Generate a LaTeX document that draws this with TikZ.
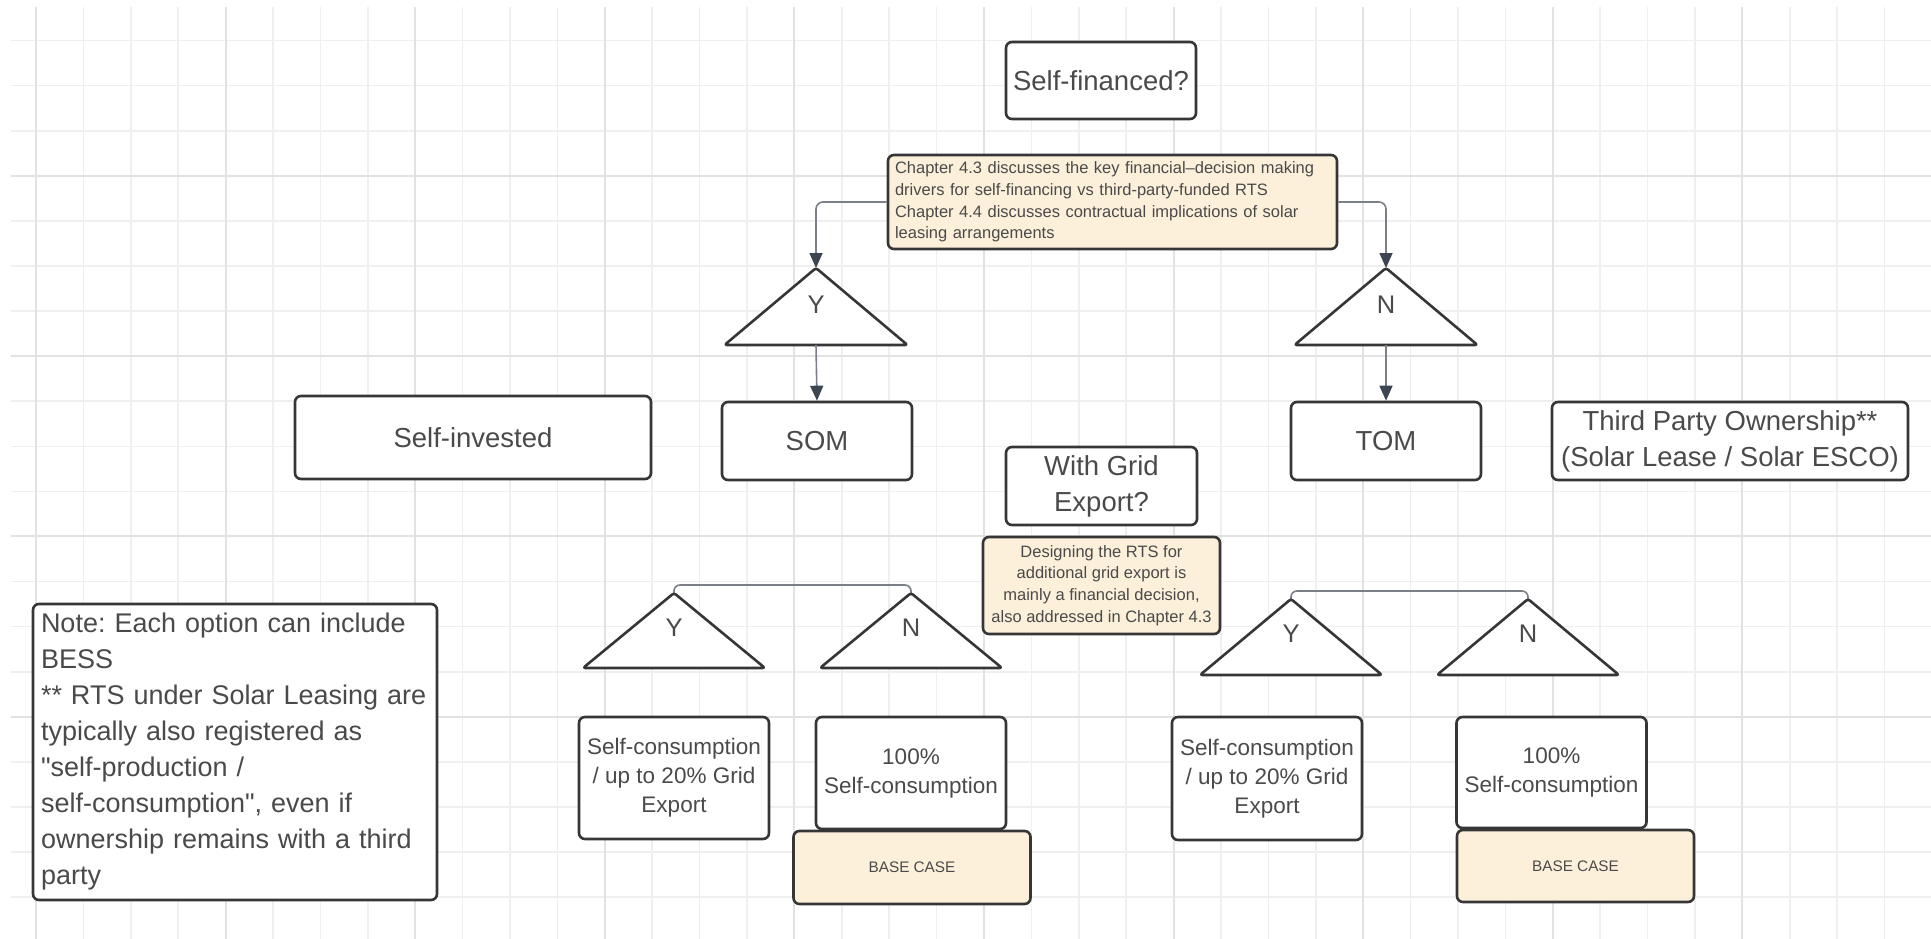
\documentclass[tikz,border=0pt]{standalone}
\usepackage{fontspec}
\setmainfont{Liberation Sans}
\newfontfamily\qfont{Liberation Sans}
\usetikzlibrary{arrows.meta}
\definecolor{gridminor}{HTML}{EFEFEF}
\definecolor{gridmajor}{HTML}{E2E2E2}
\definecolor{edge}{HTML}{363636}
\definecolor{txt}{HTML}{4A4A4A}
\definecolor{cream}{HTML}{FDF0DA}
\definecolor{conn}{HTML}{7A7F88}
\definecolor{tip}{HTML}{3D4452}
\begin{document}
\frenchspacing
\begin{tikzpicture}[x=1pt,y=-1pt,
  box/.style={draw=edge, line width=2.6pt, rounded corners=6pt, fill=white, text=txt, align=center, inner sep=0pt, font=\fontsize{27.5}{36}\selectfont},
  smallbox/.style={box, fill=cream, font=\fontsize{16.5}{21.7}\selectfont},
  consbox/.style={box, minimum width=190pt, font=\fontsize{22.5}{29}\selectfont},
  basebox/.style={box, fill=cream, minimum width=237pt, minimum height=73pt, font=\fontsize{15.3}{18}\selectfont},
  tri/.style={draw=edge, line width=2.6pt, rounded corners=2.5pt, fill=white, line join=round},
  trilabel/.style={text=txt, inner sep=0pt, font=\fontsize{25.5}{30}\selectfont},
  link/.style={draw=conn, line width=1.6pt, rounded corners=7pt},
  arrow/.style={link, -{Triangle[length=15pt,width=13pt,color=tip]}},
  gminor/.style={draw=gridminor, line width=1.6pt},
  gmajor/.style={draw=gridmajor, line width=2pt}
]
\useasboundingbox (0,0) rectangle (1931,939);
\fill[white] (0,0) rectangle (1931,939);
% grid
\foreach \k in {0,...,40}{\pgfmathsetmacro{\gx}{36+47.4*\k}\draw[gminor] (\gx,7) -- (\gx,939);}
\foreach \k in {0,...,19}{\pgfmathsetmacro{\gy}{40.6+45.08*\k}\draw[gminor] (11,\gy) -- (1931,\gy);}
\foreach \k in {0,...,10}{\pgfmathsetmacro{\gx}{36+189.6*\k}\draw[gmajor] (\gx,7) -- (\gx,939);}
\foreach \k in {0,...,3}{\pgfmathsetmacro{\gy}{175.8+180.3*\k}\draw[gmajor] (11,\gy) -- (1931,\gy);}

% top
\node[box, minimum width=190pt, minimum height=77pt] (fin) at (1101,80.5) {Self-financed?};
\node[smallbox, minimum width=449pt, minimum height=94pt, text width=435pt, align=left] (chap) at (1112.5,202)
 {Chapter 4.3 discusses the key financial–decision making\\drivers for self-financing vs third-party-funded RTS\\Chapter 4.4 discusses contractual implications of solar\\leasing arrangements};

% upper triangles
\draw[tri] (724.5,345) -- (816,268) -- (907.5,345) -- cycle;
\coordinate (ty1top) at (816,268); \coordinate (ty1bot) at (816,345);
\node[trilabel] (ty1) at (816,305) {Y};
\draw[tri] (1294.5,345) -- (1386,268) -- (1477.5,345) -- cycle;
\coordinate (tn1top) at (1386,268); \coordinate (tn1bot) at (1386,345);
\node[trilabel] (tn1) at (1386,305) {N};

% second row
\node[box, minimum width=356pt, minimum height=83pt] (inv) at (473,437.5) {Self-invested};
\node[box, minimum width=190pt, minimum height=78pt] (som) at (817,441) {SOM};
\node[box, minimum width=190pt, minimum height=78pt] (tom) at (1386,441) {TOM};
\node[box, minimum width=356pt, minimum height=78pt] (tpo) at (1730,441) {Third Party Ownership**\\(Solar Lease / Solar ESCO)};

\node[box, minimum width=191pt, minimum height=78pt] (grid) at (1101.5,486) {With Grid\\Export?};
\node[smallbox, minimum width=237pt, minimum height=97pt] (design) at (1101.5,585.5)
 {Designing the RTS for\\additional grid export is\\mainly a financial decision,\\also addressed in Chapter 4.3};

% connectors upper
\draw[arrow] (chap.west) -| (ty1top);
\draw[arrow] (chap.east) -| (tn1top);
\draw[arrow] (ty1bot) -- (som.north);
\draw[arrow] (tn1bot) -- (tom.north);

% lower triangles left
\coordinate (ly2top) at (674,593); \coordinate (ln2top) at (911,593);
\draw[link, rounded corners=6pt] (ly2top) -- (674,585) -- (911,585) -- (ln2top);
\draw[tri] (583,668) -- (ly2top) -- (765,668) -- cycle;
\node[trilabel] (ly2) at (674,628) {Y};
\draw[tri] (820,668) -- (ln2top) -- (1002,668) -- cycle;
\node[trilabel] (ln2) at (911,628) {N};

% lower triangles right
\coordinate (ry2top) at (1291,599); \coordinate (rn2top) at (1528,599);
\draw[link, rounded corners=6pt] (ry2top) -- (1291,591) -- (1528,591) -- (rn2top);
\draw[tri] (1200,675) -- (ry2top) -- (1382,675) -- cycle;
\node[trilabel] (ry2) at (1291,634) {Y};
\draw[tri] (1437,675) -- (rn2top) -- (1619,675) -- cycle;
\node[trilabel] (rn2) at (1528,634) {N};

% result boxes
\node[consbox, minimum height=122pt] (lcons) at (674,778) {Self-consumption\\/ up to 20\% Grid\\Export};
\node[consbox, minimum height=112pt] (lfull) at (911,773) {100\%\\Self-consumption};
\node[basebox] (lbase) at (912,867.5) {BASE CASE};
\node[consbox, minimum height=123pt] (rcons) at (1267,778.5) {Self-consumption\\/ up to 20\% Grid\\Export};
\node[consbox, minimum height=111pt] (rfull) at (1551.5,772.5) {100\%\\Self-consumption};
\node[basebox, minimum height=72pt] (rbase) at (1575.5,866) {BASE CASE};

% note
\node[box, minimum width=404pt, minimum height=296pt, text width=388pt, align=left, font=\fontsize{27}{36}\selectfont] (note) at (235,752)
 {\mbox{Note: Each option can include}\\BESS\\\mbox{** RTS under Solar Leasing are}\\\mbox{typically also registered as}\\{\qfont"}self-production /\\\mbox{self-consumption{\qfont"}, even if}\\\mbox{ownership remains with a third}\\party};
\end{tikzpicture}
\end{document}
